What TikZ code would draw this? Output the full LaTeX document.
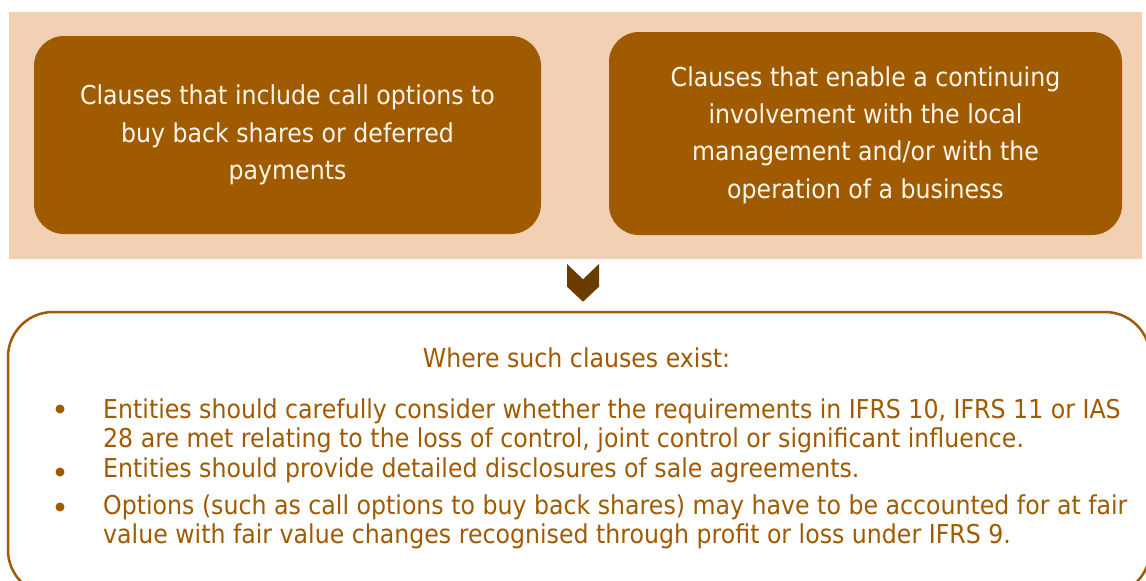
\documentclass[tikz,border=0pt]{standalone}
\usepackage{fontspec}
\setmainfont{DejaVu Sans}[FakeStretch=0.91]
\definecolor{peach}{HTML}{F2D0B3}
\definecolor{boxbrown}{HTML}{A05A00}
\definecolor{chev}{HTML}{6B3C00}
\definecolor{cream}{HTML}{FFF6EA}
\tikzset{
  clausebox/.style={rounded corners=30pt, fill=boxbrown, draw=none, text=cream,
    align=center, font=\fontsize{26}{37.2}\selectfont, inner sep=0pt},
  outbox/.style={rounded corners=45pt, draw=boxbrown, line width=2.5pt, fill=white},
  condtext/.style={text=boxbrown, font=\fontsize{26}{30}\selectfont, inner sep=0pt},
  bulletdot/.style={fill=boxbrown}
}
\begin{document}
\begin{tikzpicture}[x=1pt,y=-1pt]
\useasboundingbox (0,0) rectangle (1146,581);
\clip (0,0) rectangle (1146,581);
% background band
\fill[peach] (9,12) rectangle (1142,259);
% two clause boxes
\node[clausebox, minimum width=507pt, minimum height=198pt] (callopt) at (287.5,135)
  {Clauses that include call options to\\buy back shares or deferred\\payments};
\node[clausebox, minimum width=513pt, minimum height=203pt, text depth=2pt] (involve) at (865.5,133.5)
  {Clauses that enable a continuing\\involvement with the local\\management and/or with the\\operation of a business};
% outcome box
\node[outbox, minimum width=1142pt, minimum height=283pt] (outcome) at (579,453.5) {};
% chevron
\coordinate (chevtop) at (583,264);
\fill[chev] ([xshift=-16pt]chevtop) -- ([yshift=-15.3pt]chevtop) -- ([xshift=16pt]chevtop)
  -- ([xshift=16pt,yshift=-22.7pt]chevtop) -- ([yshift=-37.7pt]chevtop)
  -- ([xshift=-16pt,yshift=-22.7pt]chevtop) -- cycle;
% texts
\node[condtext, anchor=base] (head) at (576.5,367) {Where such clauses exist:};
\node[condtext, anchor=base west] (l1) at (103,418) {Entities should carefully consider whether the requirements in IFRS 10, IFRS 11 or IAS};
\node[condtext, anchor=base west] (l2) at (103,447) {28 are met relating to the loss of control, joint control or significant influence.};
\node[condtext, anchor=base west] (l3) at (103,477) {Entities should provide detailed disclosures of sale agreements.};
\node[condtext, anchor=base west] (l4) at (103,514) {Options (such as call options to buy back shares) may have to be accounted for at fair};
\node[condtext, anchor=base west] (l5) at (103,543) {value with fair value changes recognised through profit or loss under IFRS 9.};
\fill[bulletdot] (60,409) circle (4.5pt);
\fill[bulletdot] (60,472) circle (4.5pt);
\fill[bulletdot] (60,507) circle (4.5pt);
\end{tikzpicture}
\end{document}
